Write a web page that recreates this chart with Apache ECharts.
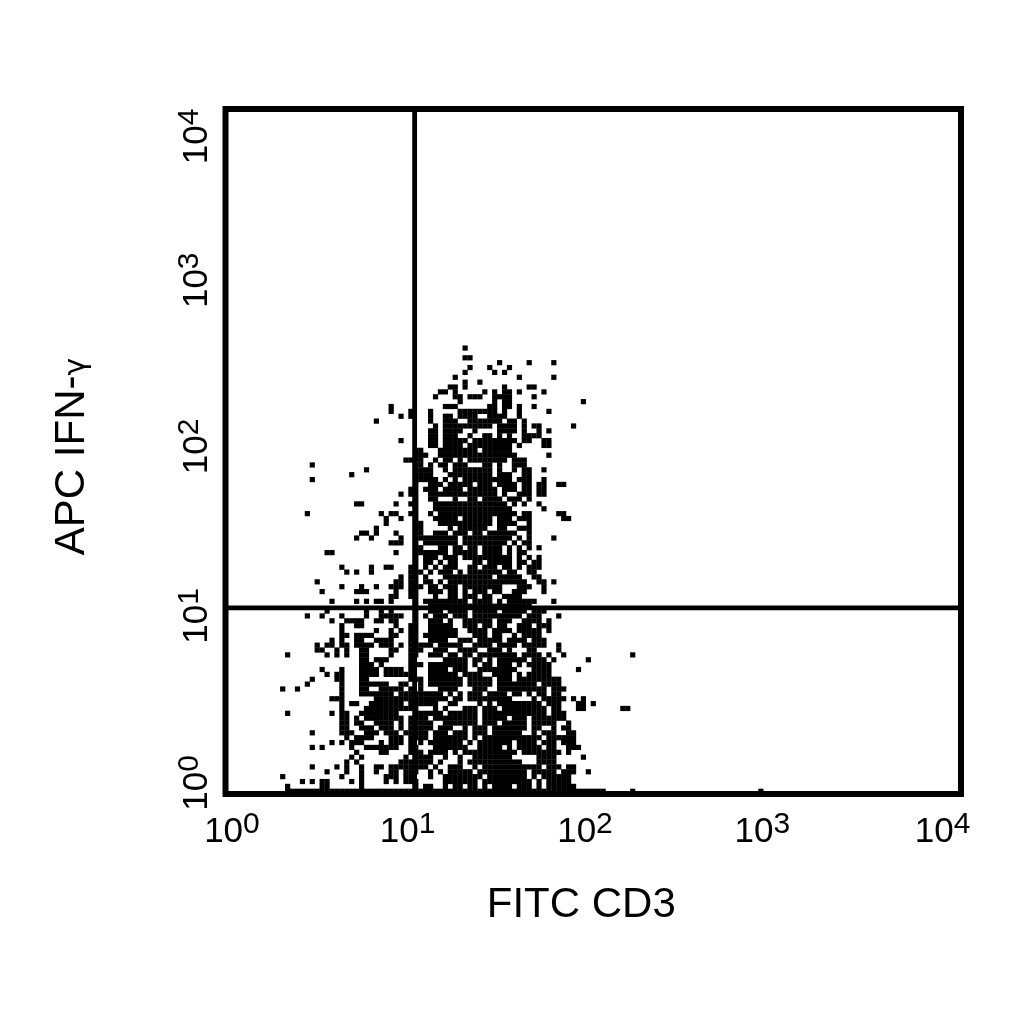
<!DOCTYPE html>
<html><head><meta charset="utf-8">
<style>html,body{margin:0;background:#fff}#c{width:1024px;height:1024px}</style>
<script src="https://cdn.jsdelivr.net/npm/echarts@6/dist/echarts.min.js"></script>
</head><body><div id="c"></div>
<script>
// Acquisition channels: one string per occupied row, top to bottom.
const channelRows = [
"31","","31-32","38,44,49","32,36,40","31,37,39","29,42,49","31,34","28-29,31,39,44-45",
"26-27,29,35,37,39-40,42,47","25,29-30,32-34,37-40,45","30,37,39-40,55","16,27-29,36-37,39-40,42,45",
"16,20,24,30-37,39,42,48","18,20,24,27-28,30-33,36-39,42","13,24,27-29,32-38,40-41,43",
"25,27-36,38-41,43,45-46,53","24-25,27-30,33,38-41,43,46,48","24-25,27-29,32,35-36,38,40,43-46",
"18,24-25,27-31,33-41,43-44,47-48","24-25,27-30,32-40,42,47-48","21-22,26-33,35-40","21-23,26-41,48",
"19-22,25,27-28,30,32-39,41-43","0,21-22,24,26-27,29-31,35-36,38,41-43","11,21-23,24,27,29-36,38,41,43-44,47",
"8,21-24,28-36,38-40,43-44","0,21-25,27,29,31-40,42-44,47","21,24-26,28-32,34-36,38-41,43-44,46-47,50-51",
"20-21,23-25,27-30,32-37,39-41,43-44,46-47","18,20-21,24-37,39,42-44,46-47","21,24-25,29,32-33,35-38,40-42,44",
"9-10,17,20-21,25-39,41,43,46","21,25-40,47","-1,14,16-17,20-21,24,26-41,43-44,50-51",
"15,18,21,25-29,31-36,38-40,42-44,51-52","15,21-22,26-36,38-41,44","13,21-22,28,30-35,38-39,42-44",
"10-11,13,17,21-22,25-27,29-31,33-34,36-41,44","9,12,18,21-29,31-40,42,44,49","16-18,21,23-29,31-39,41,43-44",
"21-22,26-27,29-30,32-33,35-38,40,42,44,46","3-4,17,21-27,29-33,35-38,40,42-43","21,23-25,27-29,31-40,42,44,46",
"21,23-24,26,28-29,33-34,36-40,42-43,45-46","6,12,15-16,20-21,23,25,27-29,32-33,35-37,39-40,42,44-46",
"7,9,12,20-22,24,26-28,30,32-38,40-41,44-45","18,20-21,23,27-36,38-42,45-46","1,17-18,20-21,23-24,26,28-43,46-47,49",
"6,10,13,16-18,20-22,24-25,27-29,31-38,42-44,47","2,9-11,17,20-21,24-26,28-29,31,33-35,37-38,41-43,47",
"16-17,20-21,25,28-29,31-33,35-36,39-42","4,9,11,13-14,16,21,23-31,33-36,38,40-45,49","21,24-44",
"3,11,14,16,21,24-26,28-31,33-37,39-43,45-47","-1,2,6,11,14-18,21,23,25-27,29-31,33-42,44-46,50",
"4,7-10,13-14,16-17,21,24-26,28,31-36,38-40,43-46,48","6,9-10,17,20-21,24-28,31-33,35-36,38-39,42-44,46-48",
"6,13,16,18,20-21,24-29,32-35,37-40,42-46,48","6-7,9-12,16-17,20-21,23-29,33-35,37-38,41,43-46","4,6,9-10,13-16,20-21,24-27,30-32,34-38,40-43,45-47",
"1,3-4,6-7,9-12,14-16,18,20-24,26-30,33-36,38-41,43-47,50","1-2,5,7,10-11,16-17,20-22,25-27,30-33,36-38,40,44-45,50",
"-5,3,5,7,10-11,16,20-21,24-26,28-29,31-32,34-41,43-46,48,51,65","10-11,13-15,20,27-31,33-34,36,38-43,45-47,49,56",
"10-12,14,20-22,24-31,33,35-36,38-40,42,44-48","2,6,10-13,15-18,20,24-27,29-31,34-41,45-48,54",
"3,5-6,10-13,15-19,20,24-29,31-34,37-40,42,44-48","0,5-6,10-11,20-22,24-30,32-36,38-40,42-50",
"-1,6,10-15,18-19,22,24-30,32-36,38-45,47-50","-6,-3,6,10-11,14-18,20,22,26-29,33-35,38-47,49-51",
"6,10-16,18-26,28,30,32-34,36-39,41-42,44,46-47,49-50","4-6,13-27,29-30,32-40,45,47-51,53,55",
"6,8-9,12-18,20-25,28-29,34,36,38-46,48-50,54-55,57","6,11-21,25,27,31-33,35-37,39-47,49-50,54-55,63-64",
"-5,4,6-7,10-17,21-26,28-33,35-47,49-51","6-7,9,11-18,20-23,25-33,35-39,41-43,45-51",
"6-7,9-10,13-16,18,20-24,27-33,35-37,39-43,45-49,52","6-7,10-12,14-16,18,20-24,26-28,31,33-35,37-43,45-46,49,51-52",
"0,6-8,11-13,15-17,19-23,25-27,29-31,33-35,37-42,45,47-49,52-53","7,9-12,16-18,20-23,25-31,33,35-46,48-53",
"4,6,8-10,14,16-18,20,22,24-30,32,34-40,42-45,47-49,51-53","0,2,8,11-17,20-21,25-31,34-38,40,42-46,48-49,52-54",
"9,14-15,20-22,24-27,29,31-41,43-50,52","8,10,19,21-24,27,30,33-40,46-49,55","7,9,18-24,26,30,32-42,46-49",
"0,5,7,10,13-14,16-23,25,28-30,33,35-46,48-50,52-53","3,7,10,13,16-17,19-21,24,26,28-32,34-43,45-49,51-53,56",
"-6,6,10,15-17,19-20,24,27-34,36-43,45,47-52","-2,0,2-3,8,10,15,17,19-21,27-33,35-44,46,48-52",
"-5,2-3,10,21,23-24,27,29-30,32-33,35,37-40,42-44,46,48-53","-5-59,65,91"
];
const logXAtChannelZero = 0.472, logXPerChannel = 0.02681;
const logYAtRowZero = 2.604, logYPerRow = 0.02844;
const quadrantX = 10.68, quadrantY = 12.2;
const tickExponents = ["0","1","2","3","4"];
const xLabelDecades = [0.035, 0.99, 1.955, 2.92, 3.9];
const yLabelDecades = [0.065, 1.04, 2.03, 3.0, 3.84];
const xTitle = "FITC CD3";
const yTitle = "APC IFN-";
const yTitleGreek = "γ";

const points = [];
channelRows.forEach((row, r) => {
  if (!row) return;
  const m = row.match(/-?\d+(?:-(?:-?\d+))?/g);
  m.forEach(tok => {
    const parts = tok.match(/^(-?\d+)(?:-(-?\d+))?$/);
    const a = +parts[1], b = parts[2] === undefined ? a : +parts[2];
    for (let c = a; c <= b; c++) {
      points.push([Math.pow(10, logXAtChannelZero + logXPerChannel * c),
                   Math.pow(10, logYAtRowZero - logYPerRow * r)]);
    }
  });
});
const FONT = '"Liberation Sans", Arial, sans-serif';
const labelRich = {
  n: {fontFamily: FONT, fontSize: 35, color: '#000', verticalAlign: 'bottom', lineHeight: 40},
  e: {fontFamily: FONT, fontSize: 30, color: '#000', verticalAlign: 'top', lineHeight: 40, padding: [0,0,14,0]}
};
const fmtFrom = arr => v => `{n|10}{e|${tickExponents[arr.indexOf(v)]}}`;
const chart = echarts.init(document.getElementById('c'), null, {renderer: 'canvas'});
chart.setOption({
  animation: false,
  backgroundColor: '#fff',
  grid: {left: 225.5, top: 109, right: 63, bottom: 230, show: true, borderColor: '#000', borderWidth: 6, backgroundColor: 'transparent', outerBoundsMode: 'none', containLabel: false},
  xAxis: [
    {type: 'log', logBase: 10, min: 1, max: 10000, axisLine: {show: false}, axisTick: {show: false}, axisLabel: {show: false}, splitLine: {show: false},
     name: xTitle, nameLocation: 'middle', nameGap: 90,
     nameTextStyle: {fontFamily: FONT, fontSize: 42, color: '#000', padding: [0, 24, 0, 0]}},
    {type: 'value', min: 0, max: 4, position: 'bottom', axisLine: {show: false}, axisTick: {show: false}, splitLine: {show: false},
     axisLabel: {show: true, customValues: xLabelDecades, margin: 16, formatter: fmtFrom(xLabelDecades), rich: labelRich, hideOverlap: false}}
  ],
  yAxis: [
    {type: 'log', logBase: 10, min: 1, max: 10000, axisLine: {show: false}, axisTick: {show: false}, axisLabel: {show: false}, splitLine: {show: false},
     name: '{t|' + yTitle + '}{g|' + yTitleGreek + '}', nameLocation: 'middle', nameGap: 132,
     nameTextStyle: {padding: [0, 10, 0, 0], rich: {t: {fontFamily: FONT, fontSize: 42, color: '#000'}, g: {fontFamily: '"DejaVu Sans", sans-serif', fontSize: 30, color: '#000', padding: [10,0,0,0]}}}},
    {type: 'value', min: 0, max: 4, position: 'left', axisLine: {show: false}, axisTick: {show: false}, splitLine: {show: false},
     axisLabel: {show: true, rotate: 90, customValues: yLabelDecades, margin: 11, formatter: fmtFrom(yLabelDecades), rich: labelRich, hideOverlap: false}}
  ],
  series: [
    {type: 'scatter', xAxisIndex: 0, yAxisIndex: 0, symbol: 'rect', symbolSize: 5.2, itemStyle: {color: '#000', opacity: 1}, data: points, silent: true},
    {type: 'line', xAxisIndex: 0, yAxisIndex: 0, symbol: 'none', lineStyle: {color: '#000', width: 4.8}, data: [[quadrantX, 1], [quadrantX, 10000]], silent: true},
    {type: 'line', xAxisIndex: 0, yAxisIndex: 0, symbol: 'none', lineStyle: {color: '#000', width: 4.8}, data: [[1, quadrantY], [10000, quadrantY]], silent: true}
  ]
});
</script></body></html>
